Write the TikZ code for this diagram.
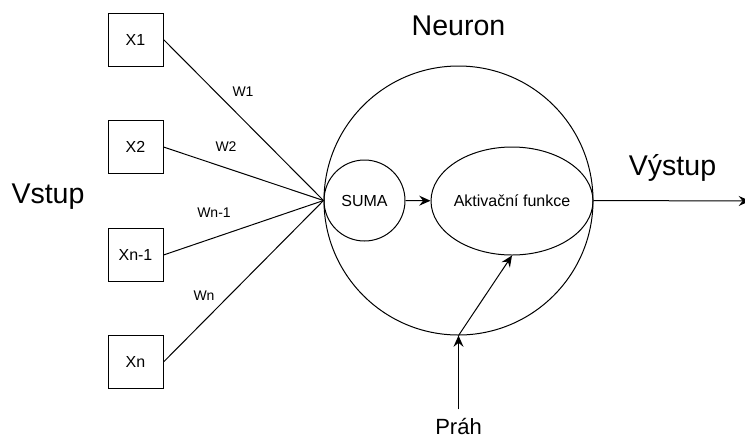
\documentclass[tikz,border=0pt]{standalone}
\usepackage{fontspec}
\setmainfont{Liberation Sans}
\usetikzlibrary{shapes.geometric,arrows.meta,positioning}

\begin{document}
\begin{tikzpicture}[x=0.75pt,y=-0.75pt,line width=0.75pt,
  >={Stealth[length=8.5pt,width=7.5pt,inset=3pt]},
  inbox/.style={draw,rectangle,minimum width=41.25pt,minimum height=39.75pt,inner sep=0pt,font=\fontsize{12}{14}\selectfont},
  weight/.style={inner sep=0pt,font=\fontsize{10.5}{12}\selectfont},
  title/.style={inner sep=0pt,anchor=base,font=\fontsize{21.4}{25}\selectfont}]
\useasboundingbox (0,0) rectangle (745,437);

% inputs
\node[inbox] (x1) at (135.5,39.5) {X1};
\node[inbox] (x2) at (135.5,147) {X2};
\node[inbox] (xn1) at (135.5,255) {Xn-1};
\node[inbox] (xn) at (135.5,362) {Xn};
\node[title] (vstup) at (48,203) {Vstup};

% neuron
\node[draw,circle,minimum size=201.75pt,inner sep=0pt] (neuron) at (458.5,200.5) {};
\node[title] (neurontit) at (458.5,35) {Neuron};
\node[draw,circle,minimum size=60.75pt,inner sep=0pt,font=\fontsize{12}{14}\selectfont] (suma) at (364.5,200.5) {SUMA};
\node[draw,ellipse,minimum width=121.5pt,minimum height=81pt,inner ysep=0pt,inner xsep=-4pt,font=\fontsize{12}{14}\selectfont] (akt) at (512,201) {Aktivační funkce};

% weights
\draw (x1.east) -- (neuron.west);
\draw (x2.east) -- (neuron.west);
\draw (xn1.east) -- (neuron.west);
\draw (xn.east) -- (neuron.west);
\node[weight] (w1) at (243,92) {W1};
\node[weight] (w2) at (226,147) {W2};
\node[weight] (wn1) at (214,213) {Wn-1};
\node[weight] (wn) at (204,296) {Wn};

\draw[->] (suma) -- (akt);

% threshold
\node[inner xsep=0pt,inner ysep=6pt,anchor=base,font=\fontsize{16.5}{19}\selectfont] (prah) at (458.5,434) {Práh};
\draw[->] (prah.north) -- (neuron.south);
\draw[->] (neuron.south) -- (akt.south);

% output
\coordinate (out) at (750,201);
\draw[->] (neuron.east) -- (out);
\node[title] (vystup) at (672.5,175) {Výstup};
\end{tikzpicture}
\end{document}
